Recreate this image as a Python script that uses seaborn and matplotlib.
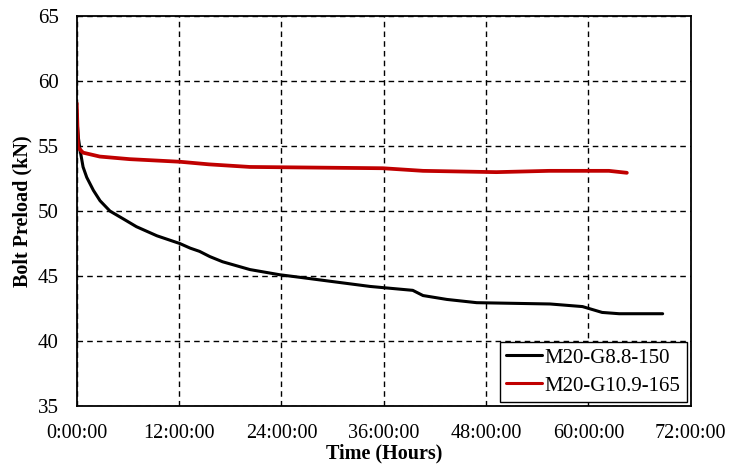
import numpy as np
import pandas as pd
import matplotlib
matplotlib.use("Agg")
import matplotlib.pyplot as plt
import seaborn as sns

# Values (time in hours, preload in kN)
hours_g88 = [0.0, 0.05, 0.2, 0.39, 0.74, 1.17, 1.95, 2.73, 3.9, 5.46, 7.0, 9.4,
             12.1, 13.3, 14.4, 15.6, 17.1, 20.3, 23.8, 26.2, 29.7, 34.4, 39.4,
             40.6, 43.4, 46.9, 55.5, 59.3, 61.6, 63.6, 68.7]
preload_g88 = [57.5, 56.8, 55.6, 54.7, 53.4, 52.6, 51.6, 50.8, 50.0, 49.4, 48.8, 48.1,
               47.5, 47.15, 46.9, 46.5, 46.1, 45.5, 45.1, 44.9, 44.6, 44.2, 43.9,
               43.5, 43.2, 42.95, 42.85, 42.65, 42.2, 42.1, 42.1]

hours_g109 = [0.0, 0.15, 0.74, 2.7, 6.2, 12.1, 15.5, 20.3, 35.9, 40.6, 49.2, 55.4,
              62.4, 64.5]
preload_g109 = [58.3, 54.9, 54.5, 54.2, 54.0, 53.8, 53.6, 53.4, 53.3, 53.1, 53.0, 53.1,
                53.1, 52.95]

series_names = ["M20-G8.8-150", "M20-G10.9-165"]
series_colors = ["#000000", "#c00000"]
xtick_hours = [0, 12, 24, 36, 48, 60, 72]
xtick_labels = ["0:00:00", "12:00:00", "24:00:00", "36:00:00",
                "48:00:00", "60:00:00", "72:00:00"]
ytick_values = [35, 40, 45, 50, 55, 60, 65]

df = pd.concat([
    pd.DataFrame({"Hours": hours_g88, "Preload": preload_g88, "Bolt": series_names[0]}),
    pd.DataFrame({"Hours": hours_g109, "Preload": preload_g109, "Bolt": series_names[1]}),
], ignore_index=True)

sns.set_style("white")
plt.rcParams["font.family"] = ["Liberation Serif", "DejaVu Serif"]
plt.rcParams["text.color"] = "black"
plt.rcParams["axes.labelcolor"] = "black"

fig = plt.figure(figsize=(7.31, 4.65), dpi=100)
ax = fig.add_axes([0.105, 0.127, 0.840, 0.838])

sns.lineplot(data=df, x="Hours", y="Preload", hue="Bolt",
             palette=dict(zip(series_names, series_colors)),
             sort=False, estimator=None, linewidth=2.2, ax=ax)
ax.get_lines()[1].set_linewidth(2.7)

ax.set_xlim(0, 72)
ax.set_ylim(35, 65)
ax.set_xticks(xtick_hours)
ax.set_xticklabels(xtick_labels)
ax.set_yticks(ytick_values)
ax.tick_params(axis="both", length=0, labelsize=14.5, colors="black")
ax.tick_params(axis="x", pad=13)
ax.tick_params(axis="y", pad=13, labelsize=15)

ax.grid(True, color="black", linestyle=(0, (4, 3)), linewidth=1.0)
for s in ax.spines.values():
    s.set_color("black")
    s.set_linewidth(1.3)

ax.set_xlabel("Time (Hours)", fontsize=14.5, fontweight="bold", labelpad=0)
ax.set_ylabel("Bolt Preload (kN)", fontsize=14.5, fontweight="bold", labelpad=4)

leg = ax.legend(loc="lower right", fontsize=15, frameon=True, fancybox=False,
                edgecolor="black", framealpha=1, handlelength=1.75,
                borderpad=0.3, labelspacing=0.4, handletextpad=0.1,
                borderaxespad=0.2)
leg.get_frame().set_linewidth(1.0)
for line in leg.get_lines():
    line.set_linewidth(2.2)

fig.savefig("out.png", dpi=100)
